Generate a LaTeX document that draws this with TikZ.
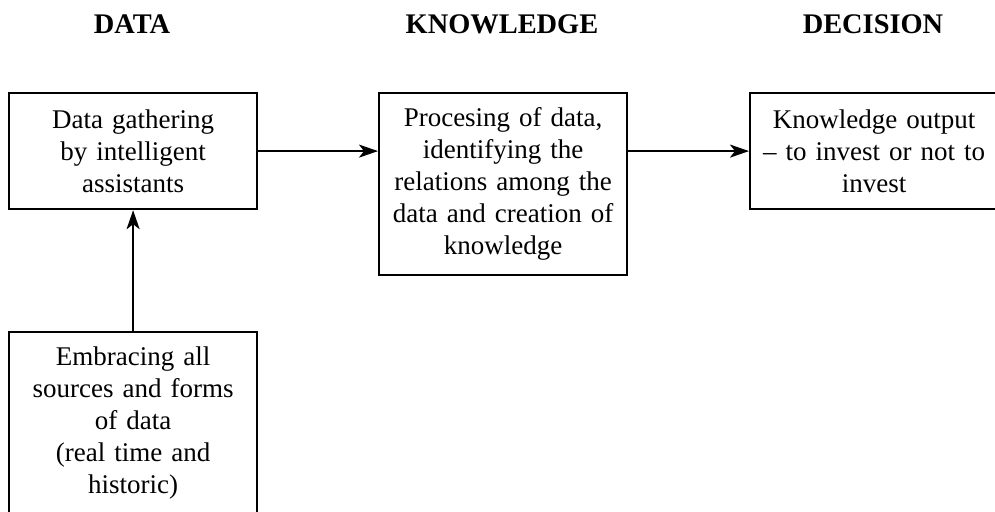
\documentclass[tikz,border=0pt]{standalone}
\usepackage{fontspec}
\setmainfont{Liberation Serif}
\usetikzlibrary{positioning, arrows.meta}

\tikzset{
    stagebox/.style={draw, line width=1.1pt, align=center, text width=116pt,
        minimum width=124pt, inner sep=0pt,
        font=\fontsize{13.5}{16}\selectfont},
    heading/.style={font=\fontsize{14.2}{16}\selectfont\bfseries},
    flow/.style={line width=1.1pt, -{Stealth[length=9.5pt, width=6.5pt, inset=2.5pt]}}
}

\begin{document}
\begin{tikzpicture}[x=0.5pt, y=-0.5pt]
    \useasboundingbox (0,0) rectangle (995,512);
    \clip (0,0) rectangle (995,512);

    % Column headings
    \node[heading] (hdata) at (132,24) {DATA};
    \node[heading] (hknow) at (502,24) {KNOWLEDGE};
    \node[heading] (hdeci) at (873,24) {DECISION};

    % Stages
    \node[stagebox, minimum height=58pt, anchor=north west] (gather) at (8,92)
        {Data gathering\\by intelligent\\assistants};
    \node[stagebox, minimum height=91pt, anchor=north west] (process) at (378,92)
        {Procesing of data,\\identifying the\\relations among the\\data and creation of\\knowledge};
    \node[stagebox, minimum height=58pt, anchor=north west] (output) at (749,92)
        {Knowledge output\\-- to invest or not to\\invest};

    % Sources feeding the assistants
    \node[stagebox, minimum height=91pt, anchor=north west] (sources) at (8,331)
        {Embracing all\\sources and forms\\of data\\(real time and\\historic)};

    % Arrows
    \draw[flow] (gather.east) -- (gather.east -| process.west);
    \draw[flow] (output.west -| process.east) -- (output.west);
    \draw[flow] (sources.north) -- (gather.south);

\end{tikzpicture}
\end{document}
